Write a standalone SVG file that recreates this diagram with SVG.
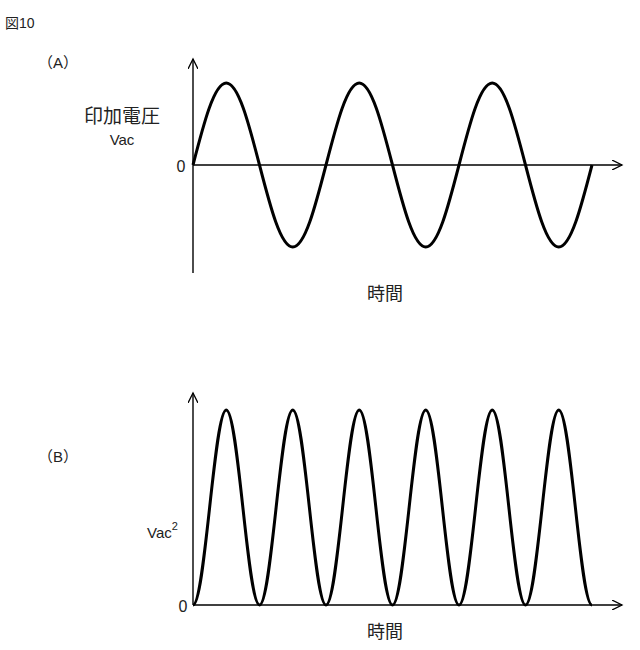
<svg xmlns="http://www.w3.org/2000/svg" width="640" height="650" viewBox="0 0 640 650">
<defs><marker id="ar" markerWidth="12" markerHeight="10" refX="10" refY="5" orient="auto" markerUnits="userSpaceOnUse"><path d="M0,0 L10,5 L0,10" fill="none" stroke="#000" stroke-width="1.3"/></marker></defs>
<style>text{font-family:"Liberation Sans","Noto Sans CJK JP",sans-serif;fill:#222}.ax{stroke:#000;stroke-width:1.4;fill:none}.w{stroke:#000;stroke-width:3;fill:none}</style>
<rect width="640" height="650" fill="#fff"/>
<text x="5" y="28" font-size="14">図10</text>
<g id="chartA">
<text x="38" y="68" font-size="15">（A）</text>
<text x="122" y="123" font-size="19" text-anchor="middle">印加電圧</text>
<text x="122" y="145" font-size="15" text-anchor="middle">Vac</text>
<text x="181" y="172" font-size="16" text-anchor="middle">0</text>
<text x="385" y="300" font-size="18" text-anchor="middle">時間</text>
</g>
<g id="chartB">
<text x="38" y="462" font-size="15">（B）</text>
<text x="147" y="538" font-size="15">Vac<tspan dy="-8" font-size="11">2</tspan></text>
<text x="183" y="612" font-size="16" text-anchor="middle">0</text>
<text x="385" y="638" font-size="18" text-anchor="middle">時間</text>
</g>
<g id="connectors">
<path class="ax" d="M193,273 V59" marker-end="url(#ar)"/>
<path class="ax" d="M193,165 H622" marker-end="url(#ar)"/>
<path class="ax" d="M193,605 V393" marker-end="url(#ar)"/>
<path class="ax" d="M193,605 H622" marker-end="url(#ar)"/>
<path class="w" d="M193,165 c10.85,-42 21.22,-82 33.25,-82 c12.03,0 22.4,40 33.25,82 c10.85,42 21.22,82 33.25,82 c12.03,0 22.4,-40 33.25,-82 c10.85,-42 21.22,-82 33.25,-82 c12.03,0 22.4,40 33.25,82 c10.85,42 21.22,82 33.25,82 c12.03,0 22.4,-40 33.25,-82 c10.85,-42 21.22,-82 33.25,-82 c12.03,0 22.4,40 33.25,82 c10.85,42 21.22,82 33.25,82 c12.03,0 22.4,-40 33.25,-82"/>
<path class="w" d="M193,605 c6.015,0 11.2,-47.55 16.625,-97.5 c5.42,-49.95 10.61,-97.5 16.625,-97.5 c6.015,0 11.2,47.55 16.625,97.5 c5.42,49.95 10.61,97.5 16.625,97.5 c6.015,0 11.2,-47.55 16.625,-97.5 c5.42,-49.95 10.61,-97.5 16.625,-97.5 c6.015,0 11.2,47.55 16.625,97.5 c5.42,49.95 10.61,97.5 16.625,97.5 c6.015,0 11.2,-47.55 16.625,-97.5 c5.42,-49.95 10.61,-97.5 16.625,-97.5 c6.015,0 11.2,47.55 16.625,97.5 c5.42,49.95 10.61,97.5 16.625,97.5 c6.015,0 11.2,-47.55 16.625,-97.5 c5.42,-49.95 10.61,-97.5 16.625,-97.5 c6.015,0 11.2,47.55 16.625,97.5 c5.42,49.95 10.61,97.5 16.625,97.5 c6.015,0 11.2,-47.55 16.625,-97.5 c5.42,-49.95 10.61,-97.5 16.625,-97.5 c6.015,0 11.2,47.55 16.625,97.5 c5.42,49.95 10.61,97.5 16.625,97.5 c6.015,0 11.2,-47.55 16.625,-97.5 c5.42,-49.95 10.61,-97.5 16.625,-97.5 c6.015,0 11.2,47.55 16.625,97.5 c5.42,49.95 10.61,97.5 16.625,97.5"/>
</g>
</svg>
